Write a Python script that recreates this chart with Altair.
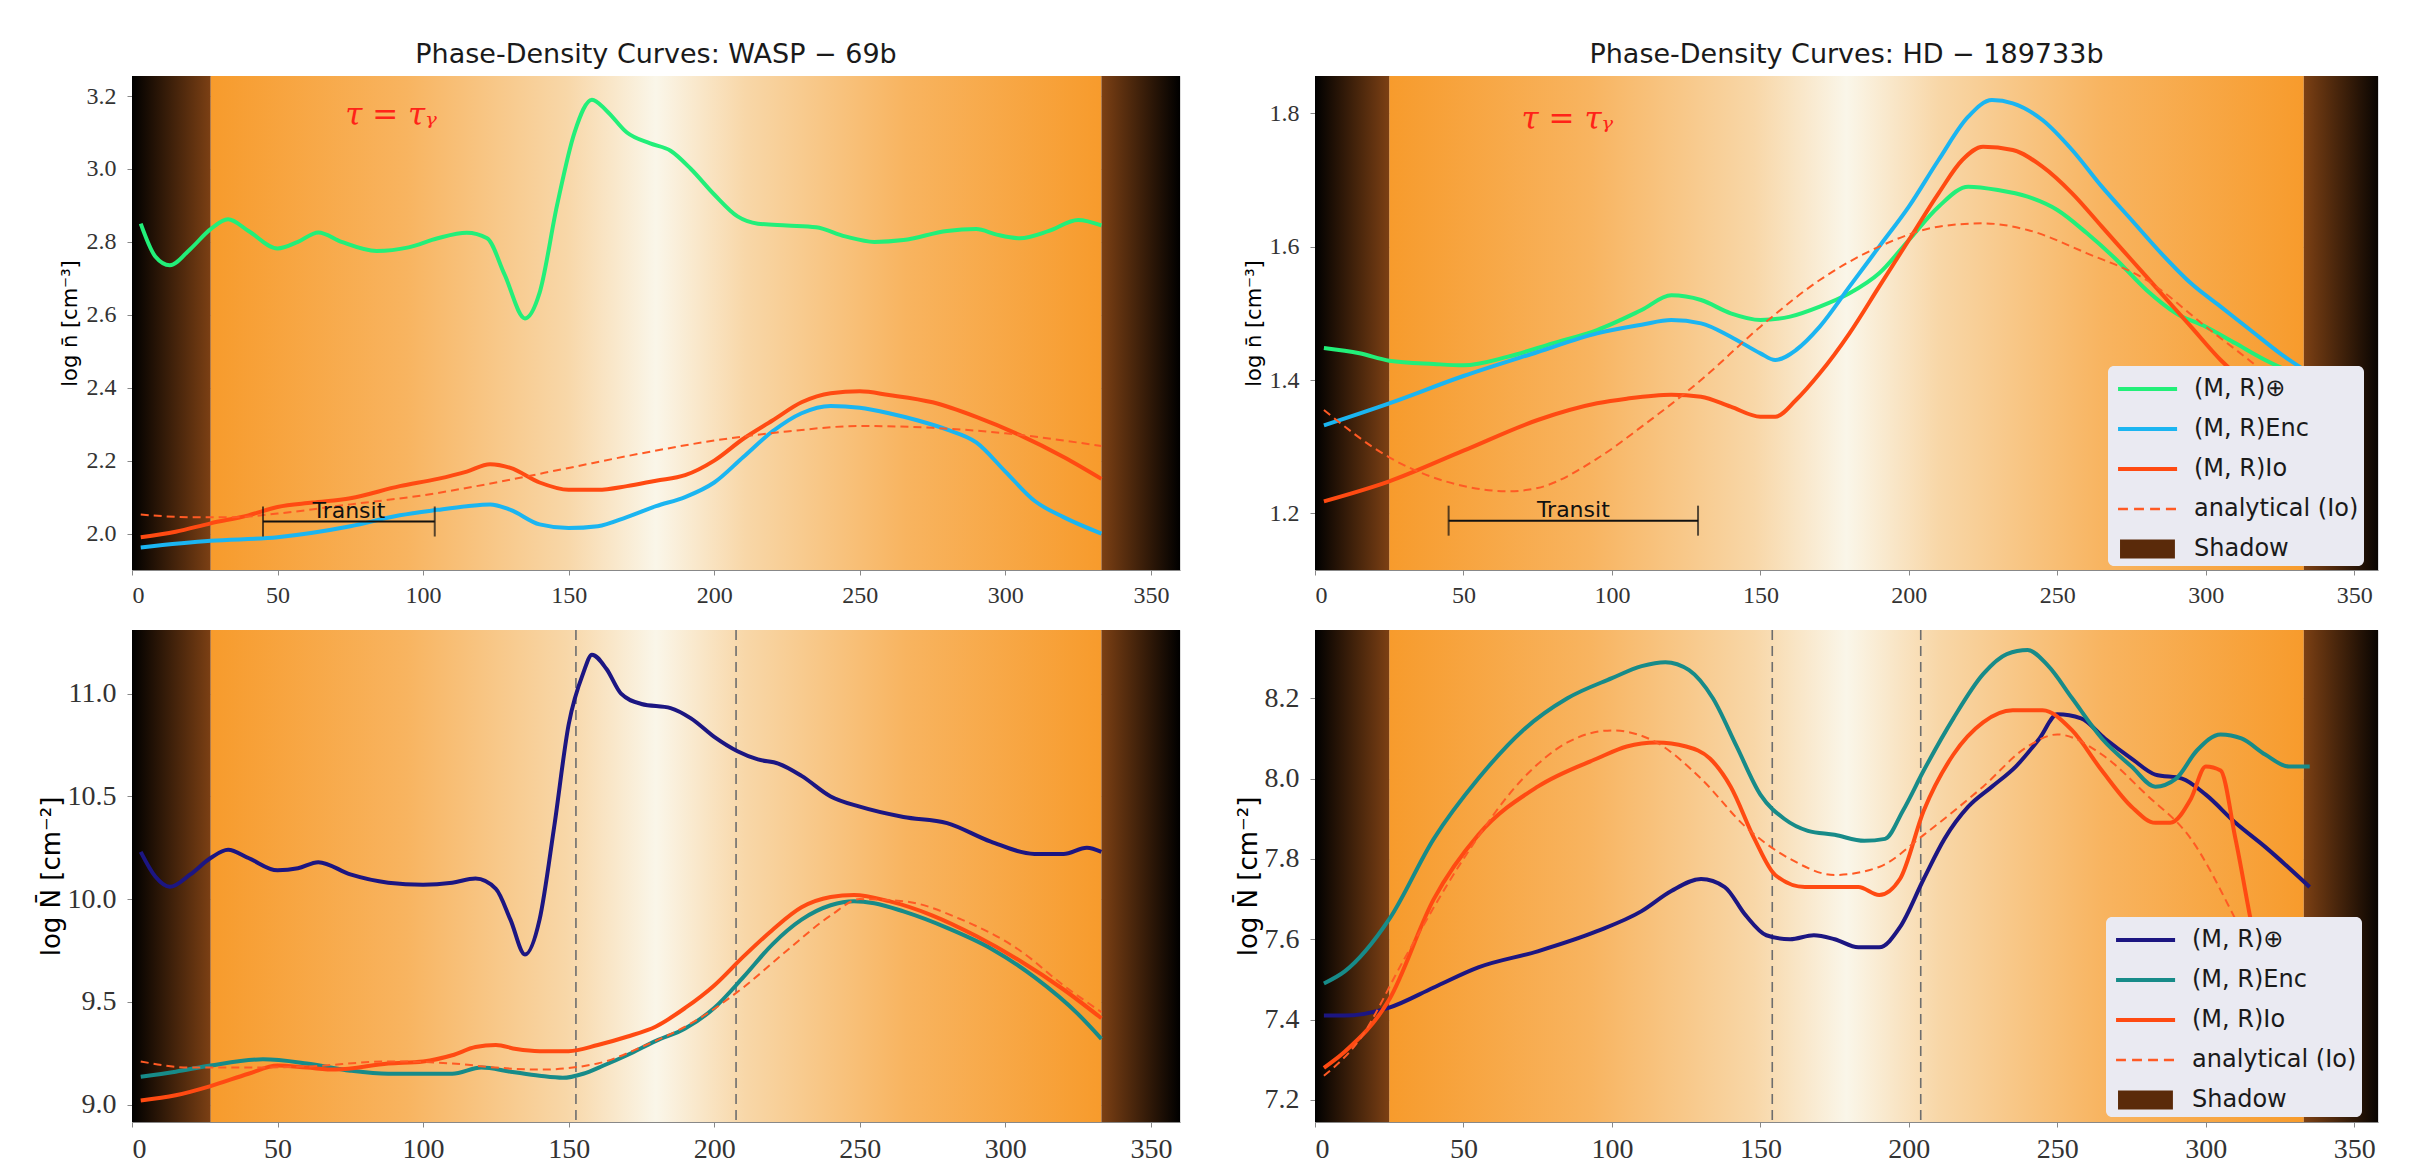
import altair as alt
import pandas as pd

# ---------------- data ----------------
# WASP-69b, top panel: log n [cm^-3]
WASP_N_EARTH_X = [3, 8, 13, 20, 27, 33, 40, 50, 57, 64, 72, 84, 95, 105, 115, 122, 128, 135, 140, 146, 152, 158, 163, 170, 178, 185, 192, 200, 208, 215, 225, 235, 245, 255, 265, 280, 290, 297, 305, 315, 325, 333]
WASP_N_EARTH_Y = [2.85, 2.76, 2.736, 2.78, 2.835, 2.862, 2.83, 2.782, 2.80, 2.826, 2.80, 2.775, 2.785, 2.81, 2.825, 2.81, 2.71, 2.59, 2.66, 2.90, 3.10, 3.19, 3.16, 3.10, 3.07, 3.05, 3.00, 2.93, 2.87, 2.85, 2.845, 2.84, 2.815, 2.80, 2.805, 2.83, 2.835, 2.82, 2.81, 2.83, 2.86, 2.845]
WASP_N_ENC_X = [3, 27, 50, 75, 92, 105, 115, 123, 130, 140, 150, 160, 170, 180, 190, 200, 210, 220, 230, 240, 250, 260, 270, 280, 290, 300, 310, 320, 333]
WASP_N_ENC_Y = [1.962, 1.98, 1.99, 2.02, 2.05, 2.065, 2.075, 2.08, 2.065, 2.025, 2.015, 2.02, 2.045, 2.075, 2.10, 2.14, 2.21, 2.28, 2.33, 2.35, 2.345, 2.33, 2.31, 2.285, 2.25, 2.17, 2.09, 2.045, 2.00]
WASP_N_IO_X = [3, 15, 27, 40, 50, 62, 75, 92, 105, 115, 123, 130, 140, 150, 160, 170, 180, 190, 200, 210, 220, 230, 240, 250, 260, 275, 290, 305, 320, 333]
WASP_N_IO_Y = [1.99, 2.005, 2.028, 2.05, 2.073, 2.085, 2.097, 2.13, 2.15, 2.17, 2.19, 2.18, 2.14, 2.12, 2.12, 2.13, 2.145, 2.16, 2.20, 2.26, 2.31, 2.36, 2.385, 2.39, 2.38, 2.36, 2.32, 2.27, 2.21, 2.15]
WASP_N_AN_X = [3, 20, 35, 50, 75, 100, 125, 150, 175, 200, 225, 250, 275, 300, 333]
WASP_N_AN_Y = [2.052, 2.045, 2.045, 2.055, 2.08, 2.105, 2.14, 2.18, 2.22, 2.255, 2.28, 2.295, 2.29, 2.275, 2.24]

# WASP-69b, bottom panel: log N [cm^-2]
WASP_C_EARTH_X = [3, 8, 13, 20, 27, 33, 40, 50, 57, 64, 75, 88, 100, 110, 118, 125, 130, 135, 140, 145, 150, 155, 158, 163, 168, 175, 185, 192, 200, 208, 215, 222, 230, 240, 250, 265, 280, 295, 310, 320, 328, 333]
WASP_C_EARTH_Y = [10.23, 10.11, 10.06, 10.12, 10.20, 10.24, 10.20, 10.14, 10.15, 10.18, 10.12, 10.08, 10.07, 10.08, 10.10, 10.05, 9.90, 9.73, 9.90, 10.35, 10.85, 11.10, 11.19, 11.12, 11.00, 10.95, 10.93, 10.88, 10.79, 10.72, 10.68, 10.66, 10.60, 10.50, 10.45, 10.40, 10.37, 10.28, 10.22, 10.22, 10.25, 10.23]
WASP_C_ENC_X = [3, 15, 27, 45, 60, 75, 88, 100, 110, 120, 130, 140, 148, 155, 162, 170, 180, 190, 200, 210, 220, 230, 240, 248, 255, 265, 280, 295, 310, 325, 333]
WASP_C_ENC_Y = [9.135, 9.16, 9.19, 9.22, 9.20, 9.165, 9.15, 9.15, 9.15, 9.18, 9.16, 9.14, 9.13, 9.15, 9.19, 9.24, 9.31, 9.37, 9.47, 9.62, 9.78, 9.90, 9.97, 9.99, 9.98, 9.94, 9.86, 9.76, 9.62, 9.44, 9.32]
WASP_C_IO_X = [3, 15, 27, 40, 50, 60, 70, 88, 100, 110, 118, 125, 132, 140, 150, 160, 170, 180, 190, 200, 210, 220, 230, 240, 248, 260, 275, 290, 305, 320, 333]
WASP_C_IO_Y = [9.02, 9.045, 9.09, 9.15, 9.19, 9.18, 9.17, 9.20, 9.21, 9.24, 9.28, 9.29, 9.27, 9.26, 9.26, 9.29, 9.33, 9.38, 9.47, 9.58, 9.72, 9.85, 9.96, 10.01, 10.02, 9.99, 9.92, 9.82, 9.70, 9.56, 9.42]
WASP_C_AN_X = [3, 20, 40, 60, 88, 110, 125, 140, 160, 175, 195, 210, 225, 240, 250, 265, 285, 305, 320, 333]
WASP_C_AN_Y = [9.21, 9.18, 9.18, 9.185, 9.21, 9.20, 9.18, 9.17, 9.20, 9.28, 9.42, 9.57, 9.75, 9.92, 10.00, 9.99, 9.90, 9.75, 9.58, 9.45]

# HD-189733b, top panel
HD_N_EARTH_X = [3, 15, 25, 40, 50, 65, 80, 95, 110, 120, 130, 140, 150, 160, 170, 180, 190, 200, 210, 220, 230, 240, 250, 260, 270, 280, 290, 300, 310, 320, 335]
HD_N_EARTH_Y = [1.448, 1.44, 1.429, 1.424, 1.422, 1.435, 1.455, 1.475, 1.505, 1.527, 1.52, 1.50, 1.49, 1.495, 1.51, 1.53, 1.56, 1.61, 1.66, 1.69, 1.685, 1.675, 1.655, 1.62, 1.58, 1.535, 1.50, 1.48, 1.455, 1.43, 1.40]
HD_N_ENC_X = [3, 25, 50, 75, 95, 110, 120, 130, 140, 150, 155, 162, 170, 180, 190, 200, 210, 220, 228, 235, 245, 255, 265, 275, 285, 295, 305, 315, 325, 335]
HD_N_ENC_Y = [1.332, 1.365, 1.406, 1.442, 1.47, 1.483, 1.49, 1.485, 1.465, 1.44, 1.43, 1.445, 1.48, 1.54, 1.60, 1.66, 1.73, 1.795, 1.82, 1.815, 1.79, 1.745, 1.69, 1.64, 1.59, 1.545, 1.51, 1.475, 1.44, 1.41]
HD_N_IO_X = [3, 25, 50, 75, 95, 105, 120, 130, 140, 150, 155, 162, 170, 180, 190, 200, 210, 218, 225, 235, 245, 255, 265, 275, 285, 295, 305, 315, 325, 335]
HD_N_IO_Y = [1.218, 1.248, 1.294, 1.34, 1.365, 1.372, 1.378, 1.375, 1.36, 1.345, 1.345, 1.37, 1.41, 1.47, 1.54, 1.61, 1.68, 1.73, 1.75, 1.745, 1.72, 1.68, 1.63, 1.58, 1.53, 1.48, 1.43, 1.39, 1.36, 1.34]
HD_N_AN_X = [3, 25, 50, 65, 75, 95, 110, 130, 150, 170, 190, 210, 225, 240, 260, 280, 300, 320, 335]
HD_N_AN_Y = [1.355, 1.284, 1.241, 1.233, 1.238, 1.282, 1.33, 1.40, 1.48, 1.55, 1.60, 1.63, 1.635, 1.625, 1.59, 1.55, 1.48, 1.41, 1.35]

# HD-189733b, bottom panel
HD_C_EARTH_X = [3, 10, 25, 40, 55, 75, 95, 110, 120, 130, 138, 145, 152, 160, 168, 175, 183, 190, 197, 205, 212, 220, 228, 236, 244, 250, 258, 266, 275, 283, 292, 300, 310, 320, 335]
HD_C_EARTH_Y = [7.41, 7.41, 7.43, 7.48, 7.53, 7.57, 7.62, 7.67, 7.72, 7.75, 7.73, 7.66, 7.61, 7.60, 7.61, 7.60, 7.58, 7.58, 7.63, 7.75, 7.85, 7.93, 7.98, 8.03, 8.10, 8.16, 8.15, 8.10, 8.05, 8.01, 8.00, 7.96, 7.89, 7.83, 7.73]
HD_C_ENC_X = [3, 10, 25, 40, 55, 70, 85, 100, 110, 118, 126, 134, 142, 150, 158, 166, 175, 185, 192, 198, 205, 215, 225, 233, 240, 247, 255, 265, 275, 283, 290, 297, 305, 312, 320, 328, 335]
HD_C_ENC_Y = [7.49, 7.52, 7.65, 7.85, 8.00, 8.12, 8.20, 8.25, 8.28, 8.29, 8.27, 8.20, 8.08, 7.96, 7.90, 7.87, 7.86, 7.845, 7.85, 7.92, 8.02, 8.15, 8.26, 8.31, 8.32, 8.28, 8.20, 8.10, 8.03, 7.98, 8.00, 8.07, 8.11, 8.10, 8.06, 8.03, 8.03]
HD_C_IO_X = [3, 10, 25, 40, 55, 75, 95, 105, 115, 125, 133, 140, 148, 155, 165, 175, 183, 190, 197, 205, 215, 225, 235, 245, 255, 265, 275, 283, 288, 295, 300, 305, 310, 318, 325, 333]
HD_C_IO_Y = [7.28, 7.32, 7.45, 7.70, 7.86, 7.98, 8.05, 8.08, 8.09, 8.08, 8.05, 7.98, 7.85, 7.76, 7.73, 7.73, 7.73, 7.71, 7.75, 7.92, 8.06, 8.14, 8.17, 8.17, 8.12, 8.02, 7.93, 7.89, 7.89, 7.95, 8.03, 8.02, 7.85, 7.55, 7.42, 7.38]
HD_C_AN_X = [3, 15, 30, 50, 70, 85, 100, 115, 130, 145, 160, 175, 190, 205, 225, 240, 250, 265, 280, 295, 310, 320, 333]
HD_C_AN_Y = [7.26, 7.35, 7.55, 7.80, 8.00, 8.09, 8.12, 8.09, 8.00, 7.88, 7.80, 7.76, 7.78, 7.86, 7.98, 8.08, 8.11, 8.06, 7.96, 7.85, 7.65, 7.50, 7.30]

# shadow limits, transit span, terminator lines
WASP_SHADOW = [27, 333]
HD_SHADOW = [25, 333]
WASP_TRANSIT = [45, 104]
HD_TRANSIT = [45, 129]
WASP_TERMINATORS = [152.5, 207.5]
HD_TERMINATORS = [154, 204]

X_TICKS = [0, 50, 100, 150, 200, 250, 300, 350]
WASP_N_TICKS = [2.0, 2.2, 2.4, 2.6, 2.8, 3.0, 3.2]
HD_N_TICKS = [1.2, 1.4, 1.6, 1.8]
WASP_C_TICKS = [9.0, 9.5, 10.0, 10.5, 11.0]
HD_C_TICKS = [7.2, 7.4, 7.6, 7.8, 8.0, 8.2]
LEGEND_LABELS = ["(M, R)⊕", "(M, R)Enc", "(M, R)Io", "analytical (Io)", "Shadow"]

# ---------------- styling ----------------
C_GREEN = "#22ef79"
C_BLUE = "#1bb5f1"
C_IO = "#ff4a12"
C_AN = "#ff5a24"
C_NAVY = "#1c1682"
C_TEAL = "#178b89"
C_SHADOW = "#5a2a0a"
SERIF = "Liberation Serif"
SANS = "DejaVu Sans"

DAY_STOPS = [
    alt.GradientStop(offset=0.0, color="#f79b2c"),
    alt.GradientStop(offset=0.22, color="#f8b460"),
    alt.GradientStop(offset=0.40, color="#f8d7a8"),
    alt.GradientStop(offset=0.5, color="#faf6e9"),
    alt.GradientStop(offset=0.60, color="#f8d7a8"),
    alt.GradientStop(offset=0.78, color="#f8b460"),
    alt.GradientStop(offset=1.0, color="#f79b2c"),
]
SH_L = [alt.GradientStop(offset=0, color="#000000"), alt.GradientStop(offset=1, color="#7c4014")]
SH_R = [alt.GradientStop(offset=0, color="#7c4014"), alt.GradientStop(offset=1, color="#000000")]


def grad(stops):
    return alt.Gradient(gradient="linear", stops=stops, x1=0, x2=1, y1=0, y2=0)


def sym_rects(rects):
    # rects in units of the symbol radius
    return " ".join(f"M{a},{-h}H{b}V{h}H{a}Z" for a, b, h in rects)


LINE_PATH = sym_rects([(-0.72, 2.56, 0.11)])
DASH_PATH = sym_rects([(-0.72, -0.17, 0.075), (0.17, 0.72, 0.075), (1.06, 1.61, 0.075), (1.94, 2.5, 0.075)])
BOX_PATH = sym_rects([(-0.61, 2.44, 0.53)])


def panel(series, ydom, yticks, xmax, shadow, width, height, ylabel, lab_size, ytitle_size,
          ytitle_pad, title=None, xtitle=None, transit=None, transit_y=None,
          tau_pos=None, terminators=None, legend_colors=None, legend_xy=None):
    xs = alt.Scale(domain=[0, xmax], nice=False, zero=False)
    ys = alt.Scale(domain=ydom, nice=False, zero=False)
    xaxis = alt.Axis(values=X_TICKS, title=xtitle, labelFont=SERIF, labelFontSize=lab_size,
                     labelPadding=8, labelColor="#333333",
                     titleFontSize=24, titlePadding=8, titleFont=SANS,
                     titleFontWeight="normal", format="d")
    yaxis = alt.Axis(title=ylabel, values=yticks, format=".1f", labelFont=SERIF,
                     labelFontSize=lab_size, labelPadding=11, labelColor="#333333",
                     titleFontSize=ytitle_size, titlePadding=ytitle_pad, titleFont=SANS,
                     titleFontWeight="normal")
    X = lambda f: alt.X(f, type="quantitative", scale=xs, axis=xaxis)
    Y = lambda f: alt.Y(f, type="quantitative", scale=ys, axis=yaxis)

    layers = []
    day = pd.DataFrame({"phase": [shadow[0]], "phase_end": [shadow[1]]})
    layers.append(alt.Chart(day).mark_rect(fill=grad(DAY_STOPS), clip=True)
                  .encode(x=X("phase"), x2="phase_end"))
    lsh = pd.DataFrame({"phase": [0], "phase_end": [shadow[0]]})
    layers.append(alt.Chart(lsh).mark_rect(fill=grad(SH_L), clip=True)
                  .encode(x=X("phase"), x2="phase_end"))
    rsh = pd.DataFrame({"phase": [shadow[1]], "phase_end": [360]})
    layers.append(alt.Chart(rsh).mark_rect(fill=grad(SH_R), clip=True)
                  .encode(x=X("phase"), x2="phase_end"))

    if terminators:
        tdf = pd.DataFrame({"phase": terminators})
        layers.append(alt.Chart(tdf).mark_rule(color="#6e6e6e", strokeWidth=1.6, strokeDash=[10, 6])
                      .encode(x=X("phase")))

    for xv, yv, color, w, dash in series:
        df = pd.DataFrame({"phase": xv, "val": yv})
        kw = dict(color=color, strokeWidth=w, interpolate="monotone", clip=True)
        if dash:
            kw["strokeDash"] = dash
        layers.append(alt.Chart(df).mark_line(**kw).encode(x=X("phase"), y=Y("val")))

    if transit:
        bar = pd.DataFrame({"phase": [transit[0]], "phase_end": [transit[1]], "val": [transit_y]})
        layers.append(alt.Chart(bar).mark_rule(color="#111111", strokeWidth=2)
                      .encode(x=X("phase"), x2="phase_end", y=Y("val")))
        caps = pd.DataFrame({"phase": transit, "val": [transit_y, transit_y]})
        layers.append(alt.Chart(caps).mark_tick(color="#111111", thickness=2, size=30, orient="vertical")
                      .encode(x=X("phase"), y=Y("val")))
        lab = pd.DataFrame({"phase": [(transit[0] + transit[1]) / 2], "val": [transit_y], "t": ["Transit"]})
        layers.append(alt.Chart(lab).mark_text(font=SANS, fontSize=22, color="#111111",
                                               baseline="alphabetic", align="center", dy=-4)
                      .encode(x=X("phase"), y=Y("val"), text="t:N"))

    if tau_pos:
        tau = pd.DataFrame({"phase": [tau_pos[0]], "val": [tau_pos[1]], "t": ["τ = τᵧ"]})
        layers.append(alt.Chart(tau).mark_text(font="DejaVu Serif", fontSize=31, fontStyle="italic",
                                               color="#ff2318", align="center", baseline="middle")
                      .encode(x=X("phase"), y=Y("val"), text="t:N"))

    if legend_colors:
        leg = alt.Legend(orient="none", legendX=legend_xy[0], legendY=legend_xy[1], title=None,
                         symbolSize=1296, symbolStrokeWidth=0, symbolOpacity=1,
                         labelFontSize=24, labelFont=SANS, labelColor="#1a1a1a",
                         labelOffset=45, padding=5, rowPadding=10, labelLimit=400,
                         fillColor="#eaeaf2", cornerRadius=6)
        ldf = pd.DataFrame({"entry": LEGEND_LABELS})
        layers.append(alt.Chart(ldf).mark_point(filled=True, opacity=0)
                      .encode(color=alt.Color("entry:N", scale=alt.Scale(domain=LEGEND_LABELS, range=legend_colors), legend=leg),
                              shape=alt.Shape("entry:N", scale=alt.Scale(domain=LEGEND_LABELS,
                                                                         range=[LINE_PATH, LINE_PATH, LINE_PATH, DASH_PATH, BOX_PATH]),
                                              legend=leg)))

    props = dict(width=width, height=height)
    if title:
        props["title"] = alt.Title(title, fontSize=27, font=SANS, fontWeight="normal",
                                   color="#1a1a1a", offset=7)
    return alt.layer(*layers).properties(**props)


XTITLE = "Orbital phase  φ ∈ [0, 360]°"

tl = panel([(WASP_N_EARTH_X, WASP_N_EARTH_Y, C_GREEN, 4, None),
            (WASP_N_ENC_X, WASP_N_ENC_Y, C_BLUE, 4, None),
            (WASP_N_IO_X, WASP_N_IO_Y, C_IO, 4, None),
            (WASP_N_AN_X, WASP_N_AN_Y, C_AN, 2, [8, 5])],
           [1.90, 3.255], WASP_N_TICKS, 360, WASP_SHADOW, 1048, 494, "log n̄ [cm⁻³]", 24, 21, 6,
           title="Phase-Density Curves: WASP − 69b", transit=WASP_TRANSIT, transit_y=2.033,
           tau_pos=[89, 3.146])

tr = panel([(HD_N_EARTH_X, HD_N_EARTH_Y, C_GREEN, 4, None),
            (HD_N_ENC_X, HD_N_ENC_Y, C_BLUE, 4, None),
            (HD_N_IO_X, HD_N_IO_Y, C_IO, 4, None),
            (HD_N_AN_X, HD_N_AN_Y, C_AN, 2, [8, 5])],
           [1.115, 1.856], HD_N_TICKS, 358, HD_SHADOW, 1063, 494, "log n̄ [cm⁻³]", 24, 21, 5,
           title="Phase-Density Curves: HD − 189733b", transit=HD_TRANSIT, transit_y=1.189,
           tau_pos=[85, 1.79],
           legend_colors=[C_GREEN, C_BLUE, C_IO, C_AN, C_SHADOW], legend_xy=[793, 290])

bl = panel([(WASP_C_EARTH_X, WASP_C_EARTH_Y, C_NAVY, 4, None),
            (WASP_C_ENC_X, WASP_C_ENC_Y, C_TEAL, 4, None),
            (WASP_C_IO_X, WASP_C_IO_Y, C_IO, 4, None),
            (WASP_C_AN_X, WASP_C_AN_Y, C_AN, 2, [8, 5])],
           [8.915, 11.31], WASP_C_TICKS, 360, WASP_SHADOW, 1048, 492, "log N̄ [cm⁻²]", 28, 26, 3,
           xtitle=XTITLE, terminators=WASP_TERMINATORS)

br = panel([(HD_C_EARTH_X, HD_C_EARTH_Y, C_NAVY, 4, None),
            (HD_C_ENC_X, HD_C_ENC_Y, C_TEAL, 4, None),
            (HD_C_IO_X, HD_C_IO_Y, C_IO, 4, None),
            (HD_C_AN_X, HD_C_AN_Y, C_AN, 2, [8, 5])],
           [7.145, 8.37], HD_C_TICKS, 358, HD_SHADOW, 1063, 492, "log N̄ [cm⁻²]", 28, 26, 3,
           xtitle=XTITLE, terminators=HD_TERMINATORS,
           legend_colors=[C_NAVY, C_TEAL, C_IO, C_AN, C_SHADOW], legend_xy=[791, 287])

chart = (alt.concat(tl, tr, bl, br, columns=2, bounds="flush",
                    spacing=alt.RowColnumber(row=60, column=135))
         .resolve_scale(color="independent", shape="independent", x="independent", y="independent")
         .resolve_legend(color="independent", shape="independent")
         .properties(padding={"left": 29, "top": 32, "right": 10, "bottom": 10})
         .configure_view(strokeWidth=0)
         .configure_axis(grid=False, ticks=False, domain=False, labelFont=SERIF,
                         labelColor="#333333", titleColor="#1a1a1a")
         .configure(background="white"))

chart.save("out.html", embed_options={"renderer": "svg", "actions": False})
